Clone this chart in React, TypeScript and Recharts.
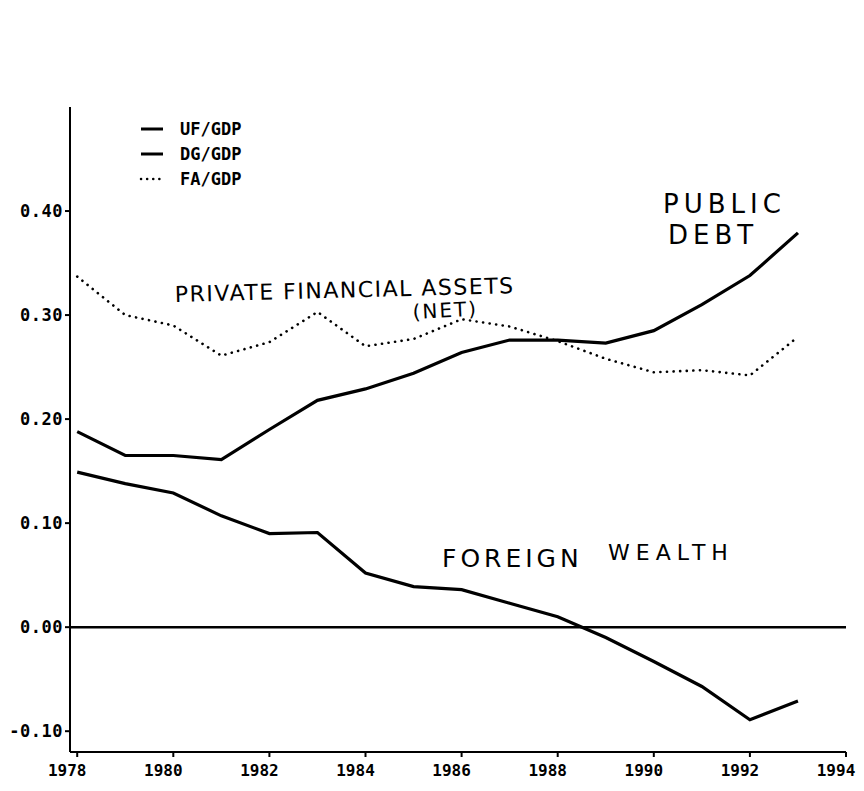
import React from "react";
import { LineChart, Line, XAxis, YAxis, ReferenceLine } from "recharts";

const years = [1978, 1979, 1980, 1981, 1982, 1983, 1984, 1985, 1986, 1987, 1988, 1989, 1990, 1991, 1992, 1993];
const ufGdp = [0.149, 0.138, 0.129, 0.107, 0.09, 0.091, 0.052, 0.039, 0.036, 0.023, 0.01, -0.01, -0.033, -0.057, -0.089, -0.071];
const dgGdp = [0.188, 0.165, 0.165, 0.161, 0.19, 0.218, 0.229, 0.244, 0.264, 0.276, 0.276, 0.273, 0.285, 0.31, 0.338, 0.379];
const faGdp = [0.337, 0.3, 0.29, 0.261, 0.274, 0.303, 0.27, 0.277, 0.296, 0.289, 0.275, 0.258, 0.245, 0.247, 0.242, 0.279];
const seriesNames = ["UF/GDP", "DG/GDP", "FA/GDP"];
const seriesDotted = [false, false, true];
const yTicks = [-0.1, 0, 0.1, 0.2, 0.3, 0.4];
const xTicks = [1978, 1980, 1982, 1984, 1986, 1988, 1990, 1992, 1994];
const annotations = ["PUBLIC", "DEBT", "PRIVATE FINANCIAL ASSETS", "(NET)", "FOREIGN", "WEALTH"];

const data = years.map((year, i) => ({ year, uf: ufGdp[i], dg: dgGdp[i], fa: faGdp[i] }));

const MONO = "'DejaVu Sans Mono', monospace";
const HAND = "'DejaVu Sans', sans-serif";

const XTick = (props: any) => {
  const { x, y, payload } = props;
  return (
    <text x={x - 10} y={y + 17} textAnchor="middle" fontFamily={MONO} fontWeight="bold" fontSize={16} fill="#000">
      {payload.value}
    </text>
  );
};

const YTick = (props: any) => {
  const { x, y, payload } = props;
  return (
    <text x={x} y={y + 6} textAnchor="end" fontFamily={MONO} fontWeight="bold" fontSize={17} fill="#000" letterSpacing={0.5}>
      {Number(payload.value).toFixed(2)}
    </text>
  );
};

export default function App() {
  return (
    <div style={{ position: "absolute", left: 0, top: 0, width: 864, height: 791, background: "#fff" }}>
      <LineChart width={864} height={791} data={data} margin={{ top: 107, right: 18, bottom: 9, left: 0 }}>
        <XAxis
          dataKey="year"
          type="number"
          domain={[1977.85, 1994]}
          ticks={xTicks}
          interval={0}
          height={30}
          stroke="#000"
          strokeWidth={2}
          tickSize={5}
          tick={<XTick />}
          allowDataOverflow
        />
        <YAxis
          type="number"
          domain={[-0.12, 0.5]}
          ticks={yTicks}
          interval={0}
          width={70}
          stroke="#000"
          strokeWidth={2}
          tickSize={5}
          tick={<YTick />}
          allowDataOverflow
        />
        <ReferenceLine y={0} stroke="#000" strokeWidth={2.5} />
        <Line name={seriesNames[0]} dataKey="uf" type="linear" stroke="#000" strokeWidth={3.2} dot={false} isAnimationActive={false} />
        <Line name={seriesNames[1]} dataKey="dg" type="linear" stroke="#000" strokeWidth={3.2} dot={false} isAnimationActive={false} />
        <Line
          name={seriesNames[2]}
          dataKey="fa"
          type="linear"
          stroke="#000"
          strokeWidth={2.6}
          strokeDasharray="0.1 6.5"
          strokeLinecap="round"
          dot={false}
          isAnimationActive={false}
        />
      </LineChart>
      <svg width={864} height={791} style={{ position: "absolute", left: 0, top: 0, pointerEvents: "none" }}>
        {seriesNames.map((name, i) => (
          <g key={name}>
            <line
              x1={141}
              x2={163}
              y1={129 + i * 25}
              y2={129 + i * 25}
              stroke="#000"
              strokeWidth={seriesDotted[i] ? 2.5 : 3}
              strokeDasharray={seriesDotted[i] ? "0.1 6" : undefined}
              strokeLinecap={seriesDotted[i] ? "round" : "butt"}
            />
            <text x={180} y={135 + i * 25} fontFamily={MONO} fontWeight="bold" fontSize={17} fill="#000">
              {name}
            </text>
          </g>
        ))}
        <text x={663} y={213} fontFamily={HAND} fontSize={26} letterSpacing={5} fill="#000">{annotations[0]}</text>
        <text x={668} y={244} fontFamily={HAND} fontSize={26} letterSpacing={5} fill="#000">{annotations[1]}</text>
        <text x={175} y={302} fontFamily={HAND} fontSize={22} letterSpacing={1.5} fill="#000" transform="rotate(-1.5 175 302)">
          {annotations[2]}
        </text>
        <text x={413} y={319} fontFamily={HAND} fontSize={20} letterSpacing={2} fill="#000" transform="rotate(-3 413 319)">
          {annotations[3]}
        </text>
        <text x={442} y={567} fontFamily={HAND} fontSize={25} letterSpacing={4} fill="#000">{annotations[4]}</text>
        <text x={608} y={560} fontFamily={HAND} fontSize={22} letterSpacing={6} fill="#000">{annotations[5]}</text>
      </svg>
    </div>
  );
}
